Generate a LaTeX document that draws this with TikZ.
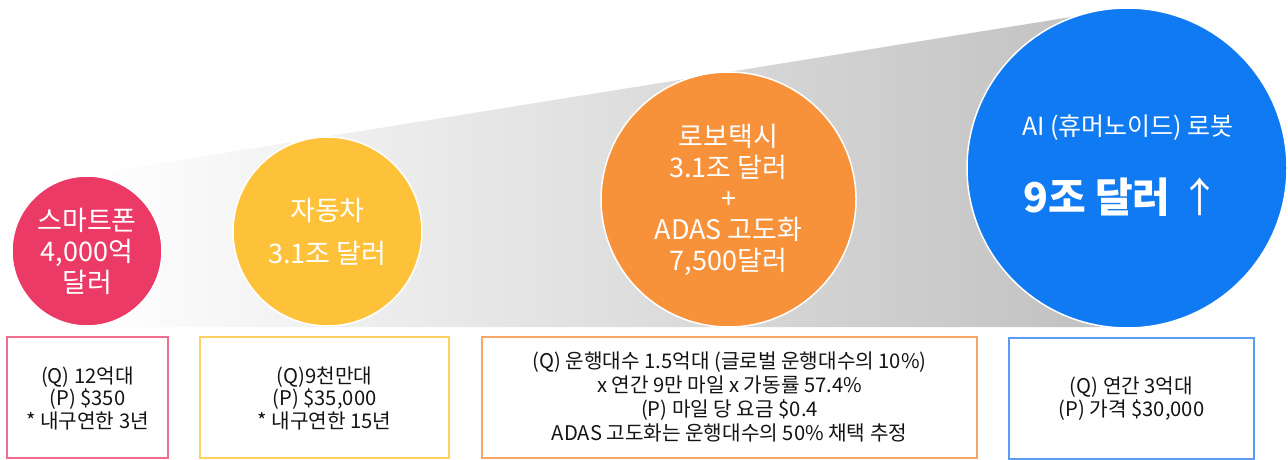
\documentclass[tikz,border=0pt]{standalone}
\usepackage{fontspec}
\setmainfont{Noto Sans CJK KR}
\usetikzlibrary{shapes.geometric}
\definecolor{pinkc}{HTML}{EB3A66}
\definecolor{yellowc}{HTML}{FEC23A}
\definecolor{orangec}{HTML}{F7913A}
\definecolor{bluec}{HTML}{0F7AF2}
\definecolor{pinkb}{HTML}{F06E8E}
\definecolor{yellowb}{HTML}{FFD163}
\definecolor{orangeb}{HTML}{F8A663}
\definecolor{blueb}{HTML}{5C9CF2}
\definecolor{txt}{HTML}{141414}
\tikzset{
  bubble/.style={circle, draw=white, line width=1.5pt, inner sep=0pt, text=white, align=center},
  infobox/.style={draw, line width=1.2pt, fill=white},
  infotext/.style={text=txt, align=center, font=\fontsize{20.2}{22.5}\selectfont},
  bubtext/.style={font=\fontsize{27}{31}\selectfont}
}
\begin{document}
\begin{tikzpicture}[x=1pt,y=-1pt]
\useasboundingbox (0,0) rectangle (1288,460);
% wedge
\shade[left color=white, right color=gray!50] (87,175) -- (1127,8) -- (1127,327) -- (87,327) -- cycle;
% circles
\node[bubble, fill=pinkc, minimum size=150pt, bubtext] (c1) at (87,251) {스마트폰\\4,000억\\달러};
\node[bubble, fill=yellowc, minimum size=189pt] (c2) at (327.5,231.5) {};
\node[text=white, font=\fontsize{27}{43}\selectfont, align=center] (t2) at (c2.center) {자동차\\3.1조 달러};
\node[bubble, fill=orangec, minimum size=255pt, bubtext] (c3) at (728.5,199.5) {로보택시\\3.1조 달러\\+\\ADAS 고도화\\7,500달러};
\node[bubble, fill=bluec, minimum size=320pt] (c4) at (1127,168) {};
\node[text=white, font=\fontsize{25}{28}\selectfont] (t4a) at (1128,128) {AI (휴머노이드) 로봇};
\node[text=white, font=\fontsize{41}{44}\selectfont\bfseries] (t4b) at (1122,197) {9조 달러 {\mdseries ↑}};
% boxes
\draw[infobox, draw=pinkb] (7,337) rectangle (168,458);
\node[infotext] (b1) at (87.5,398) {(Q) 12억대\\(P) \$350\\* 내구연한 3년};
\draw[infobox, draw=yellowb] (200,337) rectangle (449,458);
\node[infotext] (b2) at (324.5,398) {(Q)9천만대\\(P) \$35,000\\* 내구연한 15년};
\draw[infobox, draw=orangeb] (482,337) rectangle (977,458);
\node[infotext, font=\fontsize{20.2}{24}\selectfont] (b3) at (729.5,397) {(Q) 운행대수 1.5억대 (글로벌 운행대수의 10\%)\\x 연간 9만 마일 x 가동률 57.4\%\\(P) 마일 당 요금 \$0.4\\ADAS 고도화는 운행대수의 50\% 채택 추정};
\draw[infobox, draw=blueb] (1009,338) rectangle (1254,459);
\node[infotext] (b4) at (1131.5,398.5) {(Q) 연간 3억대\\(P) 가격 \$30,000};
\end{tikzpicture}
\end{document}
